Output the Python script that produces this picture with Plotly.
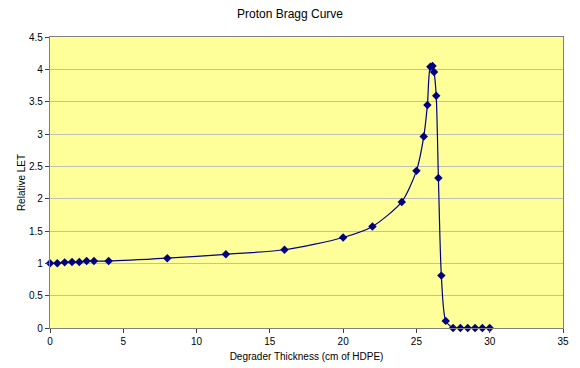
import plotly.graph_objects as go

thickness = [0, 0.5, 1, 1.5, 2, 2.5, 3, 4, 8, 12, 16, 20, 22, 24, 25, 25.5, 25.75,
             25.95, 26.1, 26.2, 26.35, 26.5, 26.7, 27.0, 27.5, 28, 28.5, 29, 29.5, 30]
relative_let = [1.0, 1.0, 1.015, 1.02, 1.02, 1.035, 1.035, 1.035, 1.08, 1.14, 1.21, 1.40,
                1.57, 1.95, 2.43, 2.96, 3.45, 4.04, 4.05, 3.96, 3.59, 2.32, 0.81, 0.11,
                0, 0, 0, 0, 0, 0]

x_ticks = [0, 5, 10, 15, 20, 25, 30, 35]
y_ticks = [0, 0.5, 1, 1.5, 2, 2.5, 3, 3.5, 4, 4.5]
y_tick_labels = ["0", "0.5", "1", "1.5", "2", "2.5", "3", "3.5", "4", "4.5"]

fig = go.Figure()
fig.add_trace(go.Scatter(
    x=thickness, y=relative_let, mode="lines+markers",
    line=dict(color="#000080", width=1.2, shape="spline", smoothing=0.7),
    marker=dict(symbol="diamond", size=6.5, color="#000080"),
    showlegend=False, cliponaxis=False,
))

fig.update_layout(
    width=580, height=368,
    margin=dict(l=50, r=17, t=37, b=40),
    paper_bgcolor="white", plot_bgcolor="#FFFF99",
    font=dict(family="Liberation Sans, Arial, sans-serif", size=10, color="black"),
    title=dict(text="Proton Bragg Curve", x=0.5, xanchor="center", y=0.962, yanchor="middle",
               font=dict(size=12)),
)
fig.update_xaxes(
    range=[0, 35], tickvals=x_ticks, showgrid=False, zeroline=False, automargin=False,
    showline=True, linecolor="#808080", linewidth=1.3, mirror=True,
    ticks="outside", ticklen=4, tickcolor="#404040",
    title=dict(text="Degrader Thickness (cm of HDPE)", font=dict(size=10), standoff=6),
)
fig.update_yaxes(
    range=[0, 4.5], tickvals=y_ticks, ticktext=y_tick_labels, automargin=False,
    showgrid=True, gridcolor="#BFBFB4", gridwidth=1.3, zeroline=False,
    showline=True, linecolor="#808080", linewidth=1.3, mirror=True,
    ticks="outside", ticklen=4, tickcolor="#404040",
    title=dict(text="Relative LET", font=dict(size=10), standoff=1),
)

fig.write_html("out.html", config={"displayModeBar": False},
               post_script="document.body.style.margin='0';")
